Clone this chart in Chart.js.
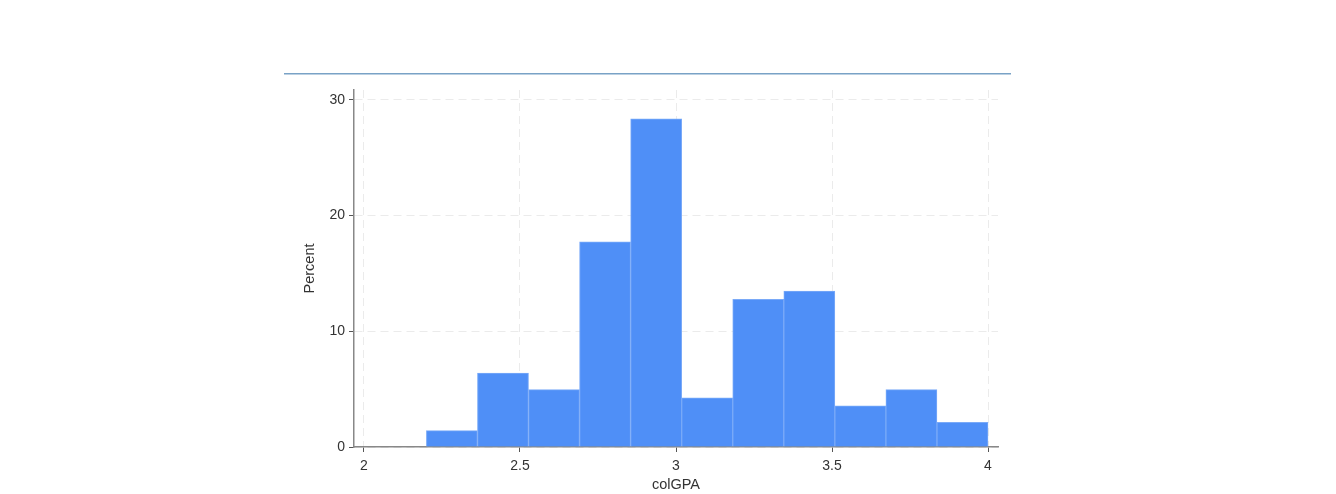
<!DOCTYPE html>
<html>
<head>
<meta charset="utf-8">
<script src="https://cdn.jsdelivr.net/npm/chart.js@4"></script>
<style>
html,body{margin:0;padding:0;background:#fff;}
#wrap{position:absolute;left:0;top:0;width:1336px;height:494px;}
</style>
</head>
<body>
<div id="wrap"><canvas id="c" width="1336" height="494"></canvas></div>
<script>
// Data (colGPA, percent per bin)
const binCenters = [2.2818, 2.4455, 2.6091, 2.7727, 2.9364, 3.1, 3.2636, 3.4273, 3.5909, 3.7545, 3.9182];
const percents   = [1.42, 6.38, 4.96, 17.73, 28.37, 4.26, 12.77, 13.48, 3.55, 4.96, 2.13];
const xTicks = [2, 2.5, 3, 3.5, 4];
const yTicks = [0, 10, 20, 30];
const xTitle = 'colGPA';
const yTitle = 'Percent';

const topLine = {
  id: 'topLine',
  beforeDraw(chart) {
    const ctx = chart.ctx;
    ctx.save();
    ctx.strokeStyle = '#79a2c6';
    ctx.lineWidth = 1.5;
    ctx.beginPath();
    ctx.moveTo(284, 73.75);
    ctx.lineTo(1011, 73.75);
    ctx.stroke();
    ctx.restore();
  }
};

const tickFont = {family: '"Liberation Sans", Arial, sans-serif', size: 14};
const titleFont = {family: '"Liberation Sans", Arial, sans-serif', size: 14.5};

new Chart(document.getElementById('c'), {
  type: 'bar',
  data: {
    datasets: [{
      data: binCenters.map((x, i) => ({x: x, y: percents[i]})),
      backgroundColor: '#4f8ff7',
      borderColor: '#7aaaf8',
      borderWidth: 1,
      barPercentage: 1,
      categoryPercentage: 1
    }]
  },
  options: {
    responsive: false,
    animation: false,
    layout: {padding: {left: 301, right: 338, top: 90, bottom: 0}},
    plugins: {legend: {display: false}, tooltip: {enabled: false}},
    scales: {
      x: {
        type: 'linear',
        min: 1.968, max: 4.032,
        offset: false,
        afterBuildTicks: s => { s.ticks = xTicks.map(v => ({value: v})); },
        afterFit: s => { s.height = 47; },
        ticks: {color: '#333', font: tickFont, padding: 6, maxRotation: 0, callback: v => String(v)},
        grid: {offset: false, color: '#ebebeb', tickColor: '#555', tickLength: 5, tickBorderDash: []},
        border: {color: '#888', width: 1.5, dash: [8, 5]},
        title: {display: true, text: xTitle, color: '#333', font: titleFont, padding: {top: 1, bottom: 0}}
      },
      y: {
        min: 0, max: 30.86,
        afterBuildTicks: s => { s.ticks = yTicks.map(v => ({value: v})); },
        afterFit: s => { s.width = 53; },
        ticks: {color: '#333', font: tickFont, padding: 4},
        grid: {offset: false, color: '#ebebeb', tickColor: '#555', tickLength: 5, tickBorderDash: []},
        border: {color: '#888', width: 1.5, dash: [8, 5]},
        title: {display: true, text: yTitle, color: '#333', font: titleFont, padding: {top: 0, bottom: 4}}
      }
    }
  },
  plugins: [topLine]
});
</script>
</body>
</html>
